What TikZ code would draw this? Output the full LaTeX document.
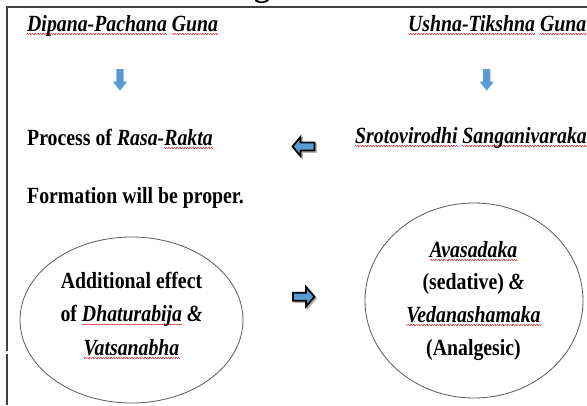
\documentclass[tikz,border=0pt]{standalone}
\usepackage{fontspec}
\usepackage{graphicx}
\setmainfont{Liberation Serif}
\usetikzlibrary{shapes.geometric}
\definecolor{spell}{RGB}{235,90,90}
\definecolor{arrblue}{RGB}{91,155,213}
\newsavebox\sqbox
\newcommand\sq[1]{\sbox\sqbox{#1}\rlap{\color{spell}\lower3pt\hbox to \wd\sqbox{\xleaders\hbox{\rule[0.45pt]{0.8pt}{0.5pt}\rule{0.8pt}{0.5pt}}\hfill}}\usebox\sqbox}
\newcommand\st[1]{\scalebox{1}[1.17]{#1}}
\tikzset{
  txt/.style={inner sep=0pt, font=\fontsize{19.8}{24}\selectfont\bfseries},
  ell/.style={draw=black!65, line width=0.8pt, ellipse, inner sep=0pt},
  downarr/.style={fill=arrblue, draw=none},
  blockarr/.style={fill=arrblue, draw=black, line width=1.8pt, line join=miter},
  shadowarr/.style={fill=black!30, draw=black!30, line width=1.8pt, line join=miter},
  frameline/.style={draw=black!75, line width=1.2pt}
}
\begin{document}
\begin{tikzpicture}[x=1pt,y=-1pt]
\useasboundingbox (0,0) rectangle (587,405);
\fill[white] (0,0) rectangle (587,405);
% cut heading fragment
\begin{scope}
  \clip (0,0) rectangle (587,5.5);
  \node[txt, anchor=base, font=\fontsize{32}{32}\selectfont\bfseries] (hdg) at (262,-4) {g};
\end{scope}
% frame
\draw[frameline] (587,7) -- (7,7) -- (7,351);
\draw[frameline] (7,354) -- (7,405);
% top texts
\node[txt, anchor=base west] (dp) at (27,31) {\st{\itshape\sq{Dipana-Pachana} \sq{Guna}}};
\node[txt, anchor=base west] (ut) at (408,31) {\st{\itshape\sq{Ushna-Tikshna} \sq{Guna}}};
% down arrows
\fill[downarr] (116.3,69) -- (123.7,69) -- (123.7,81.5) -- (127.2,81.5) -- (120,90.7) -- (112.8,81.5) -- (116.3,81.5) -- cycle;
\fill[downarr] (483,69) -- (490.4,69) -- (490.4,81.5) -- (493.9,81.5) -- (486.7,90.7) -- (479.5,81.5) -- (483,81.5) -- cycle;
% middle texts
\node[txt, anchor=base west] (pr) at (27,145) {\st{Process of \textit{Rasa-}\textit{\sq{Rakta}}}};
\node[txt, anchor=base west] (fm) at (27,203) {\st{Formation will be proper.}};
\node[txt, anchor=base west] (sr) at (355,143) {\st{\itshape\sq{Srotovirodhi} \sq{Sanganivaraka}}};
% left block arrow
\begin{scope}[shift={(1.5,1.5)}]
\path[shadowarr] (314.5,142.5) -- (300.5,142.5) -- (300.5,137) -- (292.5,146.5) -- (300.5,156) -- (300.5,150.5) -- (314.5,150.5) -- cycle;
\end{scope}
\path[blockarr] (314.5,142.5) -- (300.5,142.5) -- (300.5,137) -- (292.5,146.5) -- (300.5,156) -- (300.5,150.5) -- (314.5,150.5) -- cycle;
% ellipses
\node[ell, minimum width=223pt, minimum height=166pt] (e1) at (131.5,320) {};
\node[ell, minimum width=218pt, minimum height=195pt] (e2) at (474,300.5) {};
% left ellipse text
\node[txt, anchor=base] (l1) at (131.5,288) {\st{Additional effect}};
\node[txt, anchor=base] (l2) at (131.5,321.5) {\st{of \textit{\sq{Dhaturabija}} \textit{\&}}};
\node[txt, anchor=base] (l3) at (131.5,355) {\st{\textit{\sq{Vatsanabha}}}};
% right ellipse text
\node[txt, anchor=base] (r1) at (473.5,257) {\st{\textit{\sq{Avasadaka}}}};
\node[txt, anchor=base] (r2) at (473.5,289.5) {\st{(sedative) \textit{\&}}};
\node[txt, anchor=base] (r3) at (473.5,322) {\st{\textit{\sq{Vedanashamaka}}}};
\node[txt, anchor=base] (r4) at (473.5,355) {\st{(Analgesic)}};
% right block arrow
\begin{scope}[shift={(1.5,1.5)}]
\path[shadowarr] (293,292.8) -- (306,292.8) -- (306,287) -- (314.5,296.8) -- (306,306.5) -- (306,300.8) -- (293,300.8) -- cycle;
\end{scope}
\path[blockarr] (293,292.8) -- (306,292.8) -- (306,287) -- (314.5,296.8) -- (306,306.5) -- (306,300.8) -- (293,300.8) -- cycle;
\end{tikzpicture}
\end{document}
